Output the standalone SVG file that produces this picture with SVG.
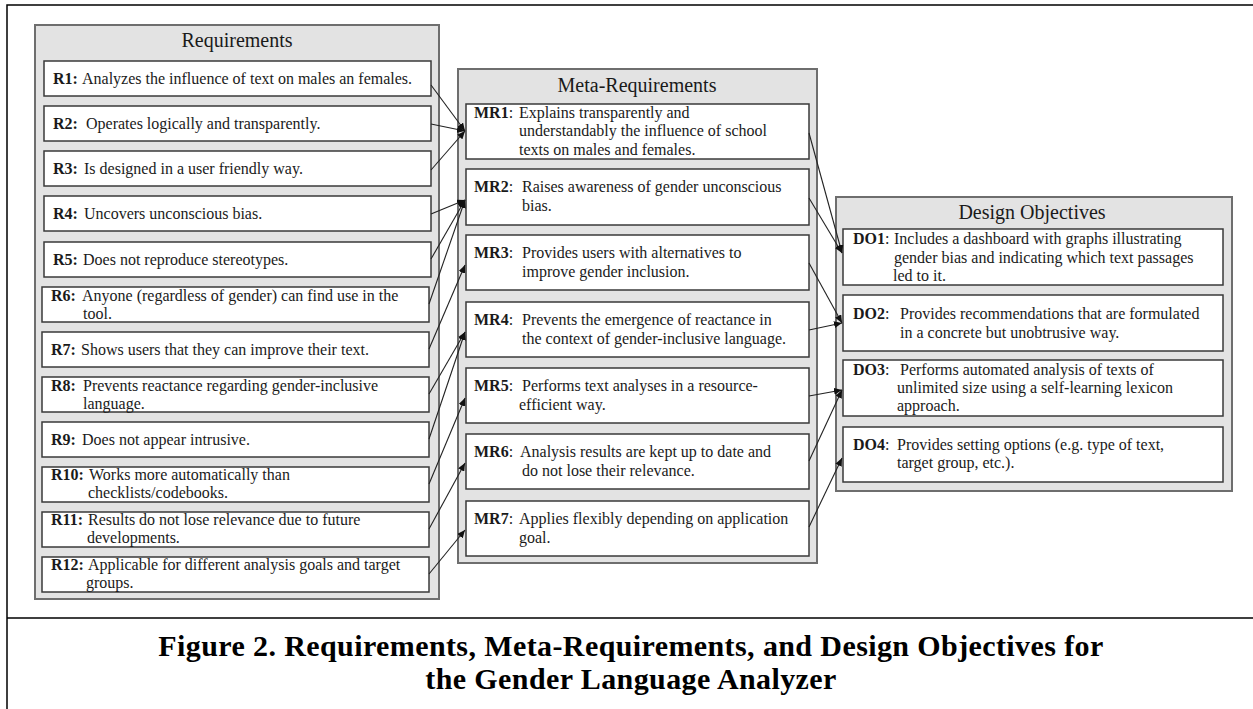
<svg xmlns="http://www.w3.org/2000/svg" width="1253" height="709" viewBox="0 0 1253 709">
<style>
text{font-family:"Liberation Serif","Times New Roman",serif;fill:#1a1a1a}
.t{font-size:16px}
.h{font-size:20px;text-anchor:middle}
.b{font-weight:bold}
.panel{fill:#e3e3e3;stroke:#6e6e6e;stroke-width:2}
.box{fill:#fff;stroke:#3a3a3a;stroke-width:1.5}
.frame{stroke:#000;stroke-width:1.5;fill:none}
.cap{font-size:30px;font-weight:bold;text-anchor:middle;fill:#000;letter-spacing:0.4px}
.c line{stroke:#222;stroke-width:1.1}
</style>
<defs>
<marker id="ah" markerUnits="userSpaceOnUse" markerWidth="9" markerHeight="7" refX="8" refY="3.5" orient="auto">
<path d="M0,0 L8,3.5 L0,7 z" fill="#111"/>
</marker>
</defs>
<rect width="1253" height="709" fill="#fff"/>
<g id="frame">
<path class="frame" d="M7,709 V5 H1253 M7,618 H1253"/>
</g>

<g id="requirements">
<rect class="panel" x="35" y="25" width="404" height="574"/>
<text class="h" x="237" y="47">Requirements</text>
</g>
<g id="R1"><rect class="box" x="44" y="61" width="387" height="35"/><text class="t" x="53" y="84"><tspan class="b">R1:</tspan><tspan x="82">Analyzes the influence of text on males an females.</tspan></text></g>
<g id="R2"><rect class="box" x="44" y="106" width="387" height="35"/><text class="t" x="53" y="129"><tspan class="b">R2:</tspan><tspan x="86">Operates logically and transparently.</tspan></text></g>
<g id="R3"><rect class="box" x="44" y="151" width="387" height="35"/><text class="t" x="53" y="174"><tspan class="b">R3:</tspan><tspan x="84">Is designed in a user friendly way.</tspan></text></g>
<g id="R4"><rect class="box" x="44" y="196" width="387" height="35"/><text class="t" x="53" y="219"><tspan class="b">R4:</tspan><tspan x="84">Uncovers unconscious  bias.</tspan></text></g>
<g id="R5"><rect class="box" x="44" y="242" width="387" height="35"/><text class="t" x="53" y="265"><tspan class="b">R5:</tspan><tspan x="83">Does not reproduce stereotypes.</tspan></text></g>
<g id="R6"><rect class="box" x="42" y="287" width="387" height="35"/><text class="t" x="51" y="301"><tspan class="b">R6:</tspan><tspan x="82">Anyone (regardless of gender) can find use in the</tspan><tspan x="83" y="319">tool.</tspan></text></g>
<g id="R7"><rect class="box" x="42" y="332" width="387" height="35"/><text class="t" x="51" y="355"><tspan class="b">R7:</tspan><tspan x="81">Shows users that they can improve their text.</tspan></text></g>
<g id="R8"><rect class="box" x="42" y="377" width="387" height="35"/><text class="t" x="51" y="391"><tspan class="b">R8:</tspan><tspan x="83">Prevents reactance regarding gender-inclusive</tspan><tspan x="83" y="409">language.</tspan></text></g>
<g id="R9"><rect class="box" x="42" y="422" width="387" height="35"/><text class="t" x="51" y="445"><tspan class="b">R9:</tspan><tspan x="82">Does not appear intrusive.</tspan></text></g>
<g id="R10"><rect class="box" x="42" y="467" width="387" height="35"/><text class="t" x="51" y="480"><tspan class="b">R10:</tspan><tspan x="89">Works more automatically than</tspan><tspan x="88" y="498">checklists/codebooks.</tspan></text></g>
<g id="R11"><rect class="box" x="42" y="512" width="387" height="35"/><text class="t" x="51" y="525"><tspan class="b">R11:</tspan><tspan x="88">Results do not lose relevance due to future</tspan><tspan x="87" y="543">developments.</tspan></text></g>
<g id="R12"><rect class="box" x="42" y="557" width="387" height="35"/><text class="t" x="51" y="570"><tspan class="b">R12:</tspan><tspan x="88">Applicable for different analysis goals and target</tspan><tspan x="86" y="588">groups.</tspan></text></g>

<g id="meta-requirements">
<rect class="panel" x="458" y="69" width="359" height="494"/>
<text class="h" x="637" y="92">Meta-Requirements</text>
</g>
<g id="MR1"><rect class="box" x="466" y="104" width="343" height="55"/><text class="t" x="474" y="118"><tspan class="b">MR1</tspan>:<tspan x="519">Explains transparently and</tspan><tspan x="519" y="136">understandably  the influence of school</tspan><tspan x="519" y="155">texts on males and females.</tspan></text></g>
<g id="MR2"><rect class="box" x="466" y="169" width="343" height="56"/><text class="t" x="474" y="192"><tspan class="b">MR2</tspan>:<tspan x="522">Raises awareness of gender unconscious</tspan><tspan x="522" y="211">bias.</tspan></text></g>
<g id="MR3"><rect class="box" x="466" y="235" width="343" height="55"/><text class="t" x="474" y="258"><tspan class="b">MR3</tspan>:<tspan x="522">Provides users with alternatives to</tspan><tspan x="522" y="277">improve gender inclusion.</tspan></text></g>
<g id="MR4"><rect class="box" x="466" y="302" width="343" height="55"/><text class="t" x="474" y="325"><tspan class="b">MR4</tspan>:<tspan x="522">Prevents the emergence of reactance in</tspan><tspan x="522" y="344">the context of gender-inclusive language.</tspan></text></g>
<g id="MR5"><rect class="box" x="466" y="368" width="343" height="55"/><text class="t" x="474" y="391"><tspan class="b">MR5</tspan>:<tspan x="522">Performs text analyses in a resource-</tspan><tspan x="519" y="410">efficient way.</tspan></text></g>
<g id="MR6"><rect class="box" x="466" y="434" width="343" height="55"/><text class="t" x="474" y="457"><tspan class="b">MR6</tspan>:<tspan x="520">Analysis results are kept up to date and</tspan><tspan x="522" y="476">do not lose their relevance.</tspan></text></g>
<g id="MR7"><rect class="box" x="466" y="501" width="343" height="55"/><text class="t" x="474" y="524"><tspan class="b">MR7</tspan>:<tspan x="519">Applies flexibly depending on application</tspan><tspan x="519" y="543">goal.</tspan></text></g>

<g id="design-objectives">
<rect class="panel" x="836" y="197" width="396" height="294"/>
<text class="h" x="1032" y="219">Design Objectives</text>
</g>
<g id="DO1"><rect class="box" x="843" y="229" width="380" height="56"/><text class="t" x="853" y="244"><tspan class="b">DO1</tspan>:<tspan x="894">Includes a dashboard with graphs illustrating</tspan><tspan x="894" y="263">gender bias and indicating  which text passages</tspan><tspan x="893" y="281">led to it.</tspan></text></g>
<g id="DO2"><rect class="box" x="843" y="295" width="380" height="56"/><text class="t" x="853" y="319"><tspan class="b">DO2</tspan>:<tspan x="900">Provides recommendations  that are formulated</tspan><tspan x="900" y="338">in a concrete but unobtrusive way.</tspan></text></g>
<g id="DO3"><rect class="box" x="843" y="360" width="380" height="56"/><text class="t" x="853" y="375"><tspan class="b">DO3</tspan>:<tspan x="900">Performs automated analysis of texts of</tspan><tspan x="897" y="393">unlimited  size using a self-learning lexicon</tspan><tspan x="897" y="411">approach.</tspan></text></g>
<g id="DO4"><rect class="box" x="843" y="427" width="380" height="55"/><text class="t" x="853" y="450"><tspan class="b">DO4</tspan>:<tspan x="897">Provides setting options  (e.g. type of text,</tspan><tspan x="897" y="468">target group, etc.).</tspan></text></g>

<g id="connectors" class="c">
<line x1="431" y1="85" x2="465" y2="131" marker-end="url(#ah)"/>
<line x1="431" y1="124" x2="465" y2="131" marker-end="url(#ah)"/>
<line x1="431" y1="170" x2="465" y2="131" marker-end="url(#ah)"/>
<line x1="431" y1="214" x2="465" y2="200" marker-end="url(#ah)"/>
<line x1="431" y1="259" x2="465" y2="200" marker-end="url(#ah)"/>
<line x1="429" y1="304" x2="465" y2="200" marker-end="url(#ah)"/>
<line x1="429" y1="349" x2="465" y2="265" marker-end="url(#ah)"/>
<line x1="429" y1="394" x2="465" y2="332" marker-end="url(#ah)"/>
<line x1="429" y1="439" x2="465" y2="332" marker-end="url(#ah)"/>
<line x1="429" y1="484" x2="465" y2="398" marker-end="url(#ah)"/>
<line x1="429" y1="529" x2="465" y2="463" marker-end="url(#ah)"/>
<line x1="429" y1="574" x2="465" y2="530" marker-end="url(#ah)"/>
<line x1="809" y1="133" x2="842" y2="253" marker-end="url(#ah)"/>
<line x1="809" y1="198" x2="842" y2="253" marker-end="url(#ah)"/>
<line x1="809" y1="263" x2="842" y2="323" marker-end="url(#ah)"/>
<line x1="809" y1="330" x2="842" y2="323" marker-end="url(#ah)"/>
<line x1="809" y1="396" x2="842" y2="390" marker-end="url(#ah)"/>
<line x1="809" y1="461" x2="842" y2="390" marker-end="url(#ah)"/>
<line x1="809" y1="527" x2="842" y2="458" marker-end="url(#ah)"/>
</g>

<g id="caption">
<text class="cap" x="631" y="656">Figure 2. Requirements, Meta-Requirements, and Design Objectives for</text>
<text class="cap" x="631" y="689">the Gender Language Analyzer</text>
</g>
</svg>
